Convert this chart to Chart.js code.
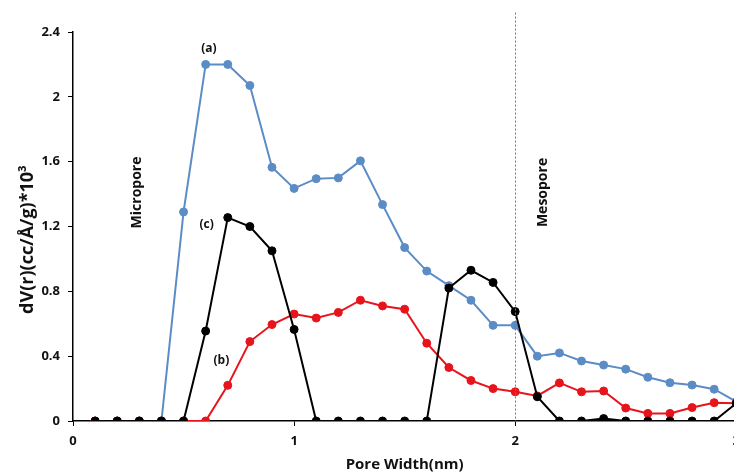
<!DOCTYPE html>
<html>
<head>
<meta charset="utf-8">
<script src="https://cdn.jsdelivr.net/npm/chart.js@4.4.1/dist/chart.umd.min.js"></script>
<style>
  body { margin: 0; background: #fff; overflow: hidden; }
  #box { width: 747px; height: 474px; }
</style>
</head>
<body>
<div id="box"><canvas id="grafico" width="747" height="474"></canvas></div>
<script>
    const poreWidth = [0.1, 0.2, 0.3, 0.4, 0.5, 0.6, 0.7, 0.8, 0.9, 1.0,
        1.1, 1.2, 1.3, 1.4, 1.5, 1.6, 1.7, 1.8, 1.9, 2.0,
        2.1, 2.2, 2.3, 2.4, 2.5, 2.6, 2.7, 2.8, 2.9, 3.0]

    // (a)
    const serieA = [0, 0, 0, 0, 1.29, 2.2, 2.2, 2.07, 1.565, 1.435,
        1.495, 1.5, 1.605, 1.335, 1.07, 0.925, 0.835, 0.745, 0.59, 0.59,
        0.4, 0.42, 0.37, 0.345, 0.32, 0.27, 0.236, 0.222, 0.196, 0.12]
    // (b)
    const serieB = [0, 0, 0, 0, 0, 0, 0.22, 0.49, 0.595, 0.66,
        0.635, 0.67, 0.745, 0.71, 0.69, 0.48, 0.33, 0.25, 0.2, 0.18,
        0.155, 0.235, 0.18, 0.185, 0.08, 0.047, 0.047, 0.083, 0.113, 0.11]
    // (c)
    const serieC = [0, 0, 0, 0, 0, 0.555, 1.255, 1.2, 1.05, 0.565,
        0, 0, 0, 0, 0, 0, 0.82, 0.93, 0.855, 0.675,
        0.15, 0, 0, 0.015, 0, 0, 0, 0, 0, 0.11]

    const xTicks = [0, 1, 2, 3]
    const yTicks = [0, 0.4, 0.8, 1.2, 1.6, 2, 2.4]

    // text placed in data coordinates: [text, x, y, rotated]
    const notes = [
        ['(a)', 0.615, 2.30, false],
        ['(c)', 0.604, 1.21, false],
        ['(b)', 0.671, 0.37, false],
        ['Micropore', 0.289, 1.41, true],
        ['Mesopore', 2.128, 1.41, true]
    ]
    const boundary = 2
    const boundaryTop = 2.52
    const yTitle = 'dV(r)(cc/Å/g)*10³'

    const fonte = '"Open Sans", Lato, sans-serif'

    function pontos(ys) {
        return ys.map((y, i) => ({ x: poreWidth[i], y: y }))
    }

    function serie(label, ys, cor, ordem) {
        return {
            label: label,
            data: pontos(ys),
            borderColor: cor,
            backgroundColor: cor,
            borderWidth: 2,
            pointRadius: 4,
            pointBorderWidth: 1,
            pointBackgroundColor: cor,
            pointBorderColor: cor,
            tension: 0,
            order: ordem
        }
    }

    const anotacoes = {
        id: 'anotacoes',
        afterDatasetsDraw(chart) {
            const ctx = chart.ctx
            const sx = chart.scales.x
            const sy = chart.scales.y
            const area = chart.chartArea

            // dotted line between micro and meso pores
            const px = Math.round(sx.getPixelForValue(boundary)) + 0.5
            ctx.save()
            ctx.strokeStyle = '#7a7a7a'
            ctx.lineWidth = 1
            ctx.setLineDash([2, 2])
            ctx.beginPath()
            ctx.moveTo(px, sy.getPixelForValue(boundaryTop))
            ctx.lineTo(px, sy.getPixelForValue(0))
            ctx.stroke()
            ctx.restore()

            notes.forEach(n => {
                const x = sx.getPixelForValue(n[1])
                const y = sy.getPixelForValue(n[2])
                ctx.save()
                ctx.fillStyle = '#111'
                ctx.textAlign = 'center'
                ctx.textBaseline = 'middle'
                ctx.translate(x, y)
                if (n[3]) {
                    ctx.rotate(-Math.PI / 2)
                    ctx.font = 'bold 14px ' + fonte
                } else {
                    ctx.font = 'bold 12px ' + fonte
                }
                ctx.fillText(n[0], 0, 0)
                ctx.restore()
            })

            // y axis title, sits a bit below the middle of the axis
            ctx.save()
            ctx.fillStyle = '#111'
            ctx.font = 'bold 18px ' + fonte
            ctx.textAlign = 'center'
            ctx.textBaseline = 'middle'
            ctx.translate(area.left - 45, (area.top + area.bottom) / 2 + 13)
            ctx.rotate(-Math.PI / 2)
            ctx.fillText(yTitle, 0, 0)
            ctx.restore()
        }
    }

    const config = {
        type: 'line',
        data: {
            datasets: [
                serie('(c)', serieC, '#000000', 1),
                serie('(b)', serieB, '#e8141c', 2),
                serie('(a)', serieA, '#5b8cc6', 3)
            ]
        },
        options: {
            responsive: false,
            animation: false,
            layout: { padding: { top: 32, right: 0, left: 0, bottom: 0 } },
            plugins: {
                legend: { display: false },
                tooltip: { enabled: false }
            },
            scales: {
                x: {
                    type: 'linear',
                    min: 0,
                    max: 3,
                    afterFit: s => { s.height = 53 },
                    afterBuildTicks: s => { s.ticks = xTicks.map(v => ({ value: v })) },
                    border: { color: '#000', width: 1.5 },
                    grid: { drawOnChartArea: false, color: '#000', tickLength: 5 },
                    ticks: {
                        color: '#111',
                        padding: 7,
                        maxRotation: 0,
                        font: { family: fonte, size: 13, weight: 'bold' }
                    },
                    title: {
                        display: true,
                        text: 'Pore Width(nm)',
                        color: '#111',
                        padding: { top: 0, bottom: 0 },
                        font: { family: fonte, size: 15, weight: 'bold' }
                    }
                },
                y: {
                    min: 0,
                    max: 2.4,
                    afterFit: s => { s.width = 73 },
                    afterBuildTicks: s => { s.ticks = yTicks.map(v => ({ value: v })) },
                    border: { color: '#000', width: 1.5 },
                    grid: { drawOnChartArea: false, color: '#000', tickLength: 5 },
                    ticks: {
                        color: '#111',
                        padding: 8,
                        font: { family: fonte, size: 13, weight: 'bold' },
                        callback: v => String(Number(v.toFixed(1)))
                    }
                }
            }
        },
        plugins: [anotacoes]
    }

    var grafico = new Chart(document.getElementById('grafico'), config)
</script>
</body>
</html>
